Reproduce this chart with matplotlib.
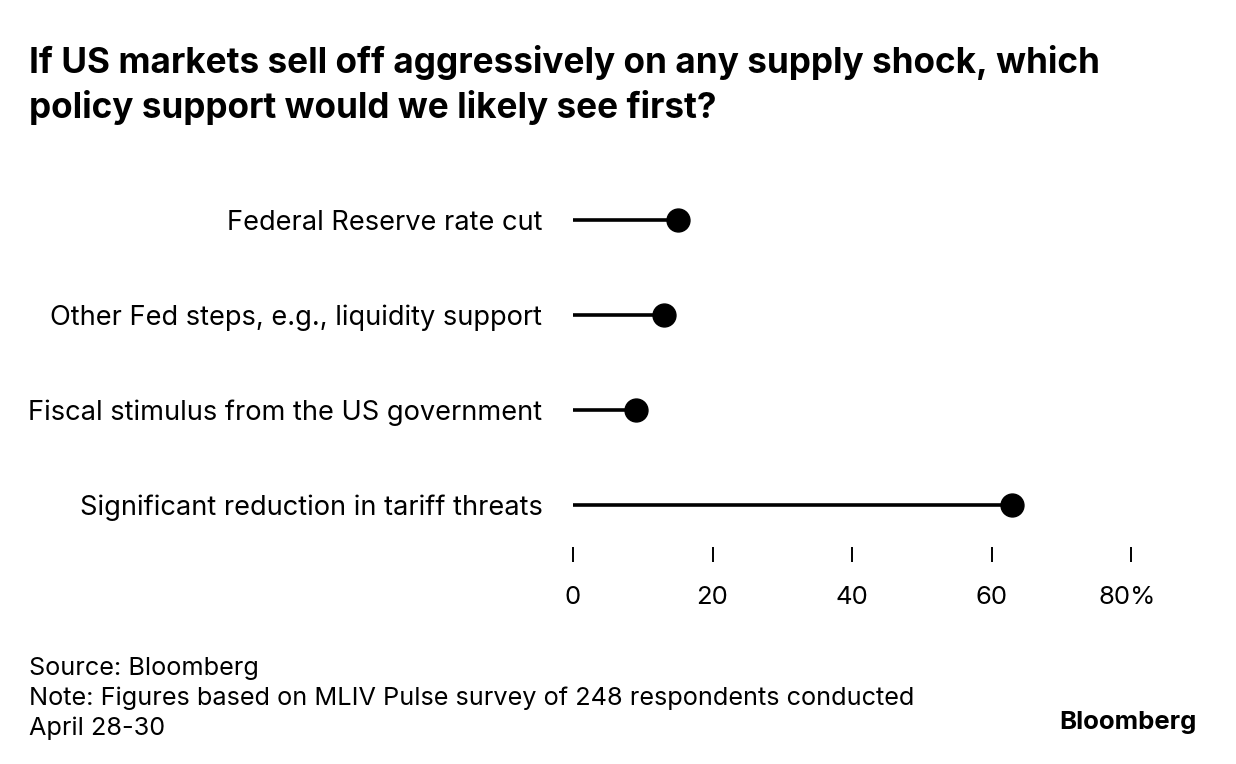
import matplotlib
matplotlib.use('Agg')
import matplotlib.pyplot as plt
import matplotlib.transforms as mtransforms

plt.rcParams['font.family'] = ['Inter', 'DejaVu Sans']

categories = ['Federal Reserve rate cut',
              'Other Fed steps, e.g., liquidity support',
              'Fiscal stimulus from the US government',
              'Significant reduction in tariff threats']
shares = [15, 13, 9, 63]
xticks = [0, 20, 40, 60, 80]
xticklabels = ['0', '20', '40', '60', '80%']

W, H = 1236, 764
fig = plt.figure(figsize=(W / 100, H / 100), dpi=100)

# axes: x=0 at 573px, x=80 at 1131px, bottom at 547px
left = 573 / W
width = (1131 - 573) / W
bottom = (H - 547) / H
height = (547 - 172.5) / H
ax = fig.add_axes([left, bottom, width, height])

ypos = list(range(len(categories)))
for y, v in zip(ypos, shares):
    ax.plot([0, v], [y, y], color='black', lw=2.6, solid_capstyle='butt', zorder=2)
ax.plot(shares, ypos, 'o', color='black', markersize=16.5, zorder=3)

ax.set_xlim(0, 80)
ax.set_ylim(3 + 42 / 95, -0.5)
for s in ax.spines.values():
    s.set_visible(False)

ax.set_yticks(ypos)
ax.set_yticklabels(categories, fontsize=19.6)
ax.tick_params(axis='y', length=0, pad=22)

ax.set_xticks(xticks)
ax.set_xticklabels(xticklabels, fontsize=18.5)
ax.tick_params(axis='x', direction='out', length=10.8, width=1.4, pad=17)
# nudge the "80%" label a little left, as in the original
last = ax.get_xticklabels()[-1]
last.set_transform(last.get_transform() + mtransforms.ScaledTranslation(-4 / 100, 0, fig.dpi_scale_trans))

fig.text(29 / W, 1 - 73 / H, 'If US markets sell off aggressively on any supply shock, which',
         fontsize=25.3, fontweight='bold', va='baseline', ha='left')
fig.text(29 / W, 1 - 118 / H, 'policy support would we likely see first?',
         fontsize=25.3, fontweight='bold', va='baseline', ha='left')

fig.text(29 / W, 1 - 675 / H, 'Source: Bloomberg', fontsize=18.2, va='baseline')
fig.text(29 / W, 1 - 705 / H, 'Note: Figures based on MLIV Pulse survey of 248 respondents conducted',
         fontsize=18.2, va='baseline')
fig.text(29 / W, 1 - 735 / H, 'April 28-30', fontsize=18.2, va='baseline')

fig.text(1197 / W, 1 - 729 / H, 'Bloomberg', fontsize=18.5, fontweight='bold',
         va='baseline', ha='right')

fig.savefig('out.png', dpi=100)
